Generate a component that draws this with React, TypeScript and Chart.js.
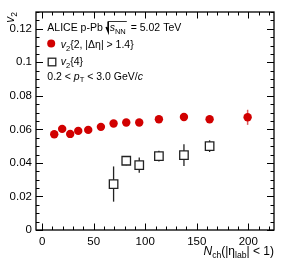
import React, { useEffect, useRef } from "react";
import { Chart, registerables } from "chart.js";
Chart.register(...registerables);

// v2{2, |Δη| > 1.4}
const nchV22 = [11.7, 19.4, 27.2, 35, 44.7, 57, 69.3, 81.6, 94.2, 113.3, 137.6, 162.5, 199.4];
const v22 = [0.0571, 0.0603, 0.0573, 0.0591, 0.0597, 0.0615, 0.0635, 0.0641, 0.0641, 0.066, 0.0674, 0.066, 0.0672];
const v22Err = [0.0008, 0.0008, 0.0008, 0.0008, 0.0008, 0.0008, 0.0008, 0.0008, 0.0008, 0.0009, 0.001, 0.0012, 0.0045];
// v2{4}
const nchV24 = [69.3, 81.6, 94.2, 113.3, 137.6, 162.5];
const v24 = [0.0274, 0.0413, 0.0387, 0.044, 0.0446, 0.05];
const v24Err = [0.0105, 0.0027, 0.0045, 0.0032, 0.0065, 0.0035];

const xTicks = [0, 50, 100, 150, 200];
const yTicks = [0, 0.02, 0.04, 0.06, 0.08, 0.1, 0.12];
const xRange = [-6, 225];
const yRange = [0, 0.13];

const FONT = "'Liberation Sans', Arial, Helvetica, sans-serif";
const RED = "#d10000";

type Part = { t: string; italic?: boolean; sub?: boolean; over?: boolean };

function drawRich(ctx: CanvasRenderingContext2D, x: number, y: number, parts: Part[], size: number, measureOnly = false): number {
  let cx = x;
  for (const p of parts) {
    const s = p.sub ? size * 0.72 : size;
    ctx.font = `${p.italic ? "italic " : ""}${s}px ${FONT}`;
    const dy = p.sub ? size * 0.28 : 0;
    const w = ctx.measureText(p.t).width;
    if (!measureOnly) {
      ctx.fillText(p.t, cx, y + dy);
    }
    cx += w;
  }
  return cx - x;
}

const framePlugin = {
  id: "framePlugin",
  beforeDatasetsDraw(chart: any) {
    const ctx = chart.ctx as CanvasRenderingContext2D;
    const xs = chart.scales.x;
    const ys = chart.scales.y;
    ctx.save();
    // error bars
    const drawErr = (xv: number[], yv: number[], ev: number[], color: string, lw: number) => {
      ctx.strokeStyle = color;
      ctx.lineWidth = lw;
      for (let i = 0; i < xv.length; i++) {
        const px = xs.getPixelForValue(xv[i]);
        const y1 = ys.getPixelForValue(yv[i] - ev[i]);
        const y2 = ys.getPixelForValue(yv[i] + ev[i]);
        ctx.beginPath();
        ctx.moveTo(px, y1);
        ctx.lineTo(px, y2);
        ctx.stroke();
      }
    };
    drawErr(nchV22, v22, v22Err, "rgba(215,60,60,0.85)", 1.5);
    drawErr(nchV24, v24, v24Err, "#222", 1.3);
    ctx.restore();
  },
  afterDraw(chart: any) {
    const ctx = chart.ctx as CanvasRenderingContext2D;
    const a = chart.chartArea;
    const xs = chart.scales.x;
    const ys = chart.scales.y;
    ctx.save();
    ctx.strokeStyle = "#000";
    ctx.lineWidth = 1.3;
    ctx.strokeRect(a.left, a.top, a.right - a.left, a.bottom - a.top);
    ctx.lineWidth = 1;
    ctx.beginPath();
    for (let v = 0; v <= xRange[1]; v += 10) {
      const px = Math.round(xs.getPixelForValue(v)) + 0.5;
      const len = v % 50 === 0 ? 6.5 : 3.5;
      ctx.moveTo(px, a.bottom);
      ctx.lineTo(px, a.bottom - len);
      ctx.moveTo(px, a.top);
      ctx.lineTo(px, a.top + len);
    }
    for (let k = 0; k * 0.005 <= yRange[1] + 1e-9; k++) {
      const py = Math.round(ys.getPixelForValue(k * 0.005)) + 0.5;
      const len = k % 4 === 0 ? 7 : 3.5;
      ctx.moveTo(a.left, py);
      ctx.lineTo(a.left + len, py);
      ctx.moveTo(a.right, py);
      ctx.lineTo(a.right - len, py);
    }
    ctx.stroke();

    ctx.fillStyle = "#000";
    ctx.textBaseline = "alphabetic";
    ctx.textAlign = "left";
    // legend
    const fs = 10.5;
    const l1: Part[] = [{ t: "ALICE p-Pb " }];
    let w1 = drawRich(ctx, 47.3, 31, l1, fs);
    // sqrt sign
    const sx = 47.3 + w1;
    ctx.lineWidth = 1.6;
    ctx.beginPath();
    ctx.moveTo(sx + 0.5, 27);
    ctx.lineTo(sx + 2.5, 31.5);
    ctx.lineTo(sx + 2.5, 21.5);
    ctx.stroke();
    ctx.lineWidth = 0.8;
    const sParts: Part[] = [{ t: "s", italic: true }, { t: "NN", sub: true }];
    const sw = drawRich(ctx, sx + 4, 31, sParts, fs);
    ctx.beginPath();
    ctx.moveTo(sx + 2.5, 21.5);
    ctx.lineTo(sx + 4 + sw + 1, 21.5);
    ctx.stroke();
    drawRich(ctx, sx + 4 + sw + 2, 31, [{ t: " = 5.02 TeV" }], fs);

    drawRich(ctx, 60.7, 48, [{ t: "v", italic: true }, { t: "2", sub: true }, { t: "{2, |Δη| > 1.4}" }], fs);
    drawRich(ctx, 60.7, 65.3, [{ t: "v", italic: true }, { t: "2", sub: true }, { t: "{4}" }], fs);
    drawRich(ctx, 47.3, 79.5, [{ t: "0.2 < " }, { t: "p", italic: true }, { t: "T", sub: true }, { t: " < 3.0 GeV/" }, { t: "c", italic: true }], fs);

    // legend markers
    ctx.fillStyle = RED;
    ctx.beginPath();
    ctx.arc(51.2, 43.6, 4, 0, Math.PI * 2);
    ctx.fill();
    ctx.strokeStyle = "#222";
    ctx.lineWidth = 1.3;
    ctx.strokeRect(48.2, 58.2, 7.6, 7.6);

    // x title
    ctx.fillStyle = "#000";
    const xt: Part[] = [{ t: "N", italic: true }, { t: "ch", sub: true }, { t: "(|η" }, { t: "lab", sub: true }, { t: "| < 1)" }];
    const tfs = 12;
    const xw = drawRich(ctx, 0, 0, xt, tfs, true);
    drawRich(ctx, a.right - xw, 255, xt, tfs);

    // y title (rotated)
    ctx.save();
    ctx.translate(13.5, a.top);
    ctx.rotate(-Math.PI / 2);
    const yt: Part[] = [{ t: "v", italic: true }, { t: "2", sub: true }];
    const yw = drawRich(ctx, 0, 0, yt, tfs, true);
    drawRich(ctx, -yw, 0, yt, tfs);
    ctx.restore();

    ctx.restore();
  },
};

export default function App() {
  const ref = useRef<HTMLCanvasElement | null>(null);
  useEffect(() => {
    if (!ref.current) return;
    const chart = new Chart(ref.current, {
      type: "scatter",
      data: {
        datasets: [
          {
            label: "v2{4}",
            data: nchV24.map((x, i) => ({ x, y: v24[i] })),
            pointStyle: "rect",
            pointRadius: 6,
            pointBackgroundColor: "#fff",
            pointBorderColor: "#222",
            pointBorderWidth: 1.3,
            order: 2,
          },
          {
            label: "v2{2, |Δη| > 1.4}",
            data: nchV22.map((x, i) => ({ x, y: v22[i] })),
            pointStyle: "circle",
            pointRadius: 4.2,
            pointBackgroundColor: RED,
            pointBorderColor: RED,
            pointBorderWidth: 0,
            order: 1,
          },
        ],
      },
      options: {
        responsive: false,
        animation: false,
        devicePixelRatio: 1,
        layout: { padding: { top: 12, right: 9, left: 0, bottom: 0 } },
        plugins: { legend: { display: false }, tooltip: { enabled: false } },
        scales: {
          x: {
            type: "linear",
            min: xRange[0],
            max: xRange[1],
            grid: { display: false, drawTicks: false },
            border: { display: false },
            afterBuildTicks: (s: any) => {
              s.ticks = xTicks.map((v) => ({ value: v }));
            },
            afterFit: (s: any) => {
              s.height = 41;
            },
            ticks: {
              autoSkip: false,
              maxRotation: 0,
              padding: 5,
              color: "#000",
              font: { family: FONT, size: 11.5 },
              callback: (v: any) => String(v),
            },
          },
          y: {
            type: "linear",
            min: yRange[0],
            max: yRange[1],
            grid: { display: false, drawTicks: false },
            border: { display: false },
            afterBuildTicks: (s: any) => {
              s.ticks = yTicks.map((v) => ({ value: v }));
            },
            afterFit: (s: any) => {
              s.width = 36;
            },
            ticks: {
              autoSkip: false,
              padding: 4,
              color: "#000",
              font: { family: FONT, size: 11.5 },
              callback: (v: any) => String(+Number(v).toFixed(3)),
            },
          },
        },
      },
      plugins: [framePlugin],
    } as any);
    return () => chart.destroy();
  }, []);
  return (
    <div style={{ position: "fixed", left: 0, top: 0, width: 283, height: 271, background: "#fff" }}>
      <canvas ref={ref} width={283} height={271} style={{ display: "block" }} />
    </div>
  );
}
